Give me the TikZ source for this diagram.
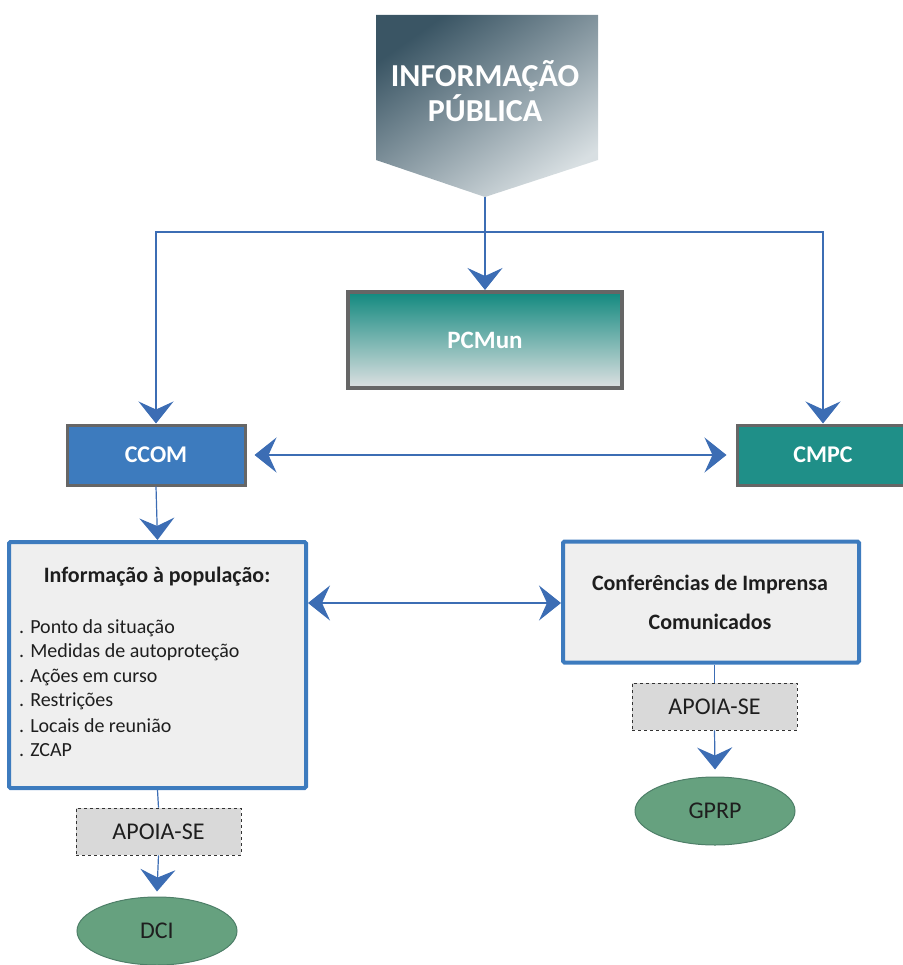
\documentclass[tikz,border=0pt]{standalone}
\usepackage{fontspec}
\setmainfont{Carlito}
\usetikzlibrary{arrows.meta,shapes.geometric}
\definecolor{arrblue}{HTML}{3C6DB4}
\definecolor{ccomblue}{HTML}{3D7BBE}
\definecolor{tealc}{HTML}{1F8F88}
\definecolor{bordgray}{HTML}{666666}
\definecolor{boxfill}{HTML}{EFEFEF}
\definecolor{apoiafill}{HTML}{D9D9D9}
\definecolor{ellfill}{HTML}{66A17F}
\definecolor{elldraw}{HTML}{4E7F68}
\definecolor{pentdark}{HTML}{3A5564}
\definecolor{pentlight}{HTML}{D8DFE2}
\definecolor{pcteal}{HTML}{12897F}
\definecolor{pclight}{HTML}{DDE0E1}
\definecolor{txtdark}{HTML}{1E1E1E}
\tikzset{
  >={Stealth[length=22pt,width=35pt,inset=8pt]},
  conn/.style={draw=arrblue,line width=1.2pt},
  solidbox/.style={draw=bordgray,line width=3pt,text=white,
    font=\bfseries\fontsize{24}{28}\selectfont},
  bluebox/.style={draw=ccomblue,line width=4pt,fill=boxfill,rounded corners=1.5pt},
  apoiabox/.style={draw=black!80,dashed,line width=0.8pt,fill=apoiafill,
    minimum width=165pt,minimum height=47pt,text=txtdark,
    font=\fontsize{24}{28}\selectfont},
  ellbox/.style={ellipse,draw=elldraw,line width=1pt,fill=ellfill,
    minimum width=160pt,minimum height=68pt,text=txtdark,
    font=\fontsize{24}{28}\selectfont},
  itemtxt/.style={anchor=west,inner sep=0pt,text=txtdark,font=\fontsize{20}{24}\selectfont},
  headtxt/.style={inner sep=0pt,text=txtdark,font=\bfseries\fontsize{22}{26}\selectfont}
}
\begin{document}
\begin{tikzpicture}[x=1pt,y=-1pt]
\useasboundingbox (0,0) rectangle (902,965);
% pentagon
\shade[top color=pentdark,bottom color=pentlight,shading angle=35]
  (376,15) -- (598,15) -- (598,160) -- (485,197) -- (376,160) -- cycle;
\node[inner sep=0pt,align=center,text=white,
  font=\bfseries\fontsize{32}{35}\selectfont] (ip) at (485,91) {INFORMAÇÃO\\PÚBLICA};
\coordinate (ptip) at (485,197);
\coordinate (j) at (485,232);
% PCMun
\node[draw=bordgray,line width=4pt,top color=pcteal,bottom color=pclight,
  minimum width=274pt,minimum height=96pt,text=white,
  font=\bfseries\fontsize{25}{29}\selectfont] (pc) at (485,340) {PCMun};
% CCOM / CMPC
\node[solidbox,fill=ccomblue,minimum width=178pt,minimum height=60pt] (ccom) at (156,455) {CCOM};
\node[solidbox,fill=tealc,minimum width=172pt,minimum height=60pt] (cmpc) at (823,455) {CMPC};
% info box
\node[bluebox,minimum width=297pt,minimum height=246pt] (info) at (157.5,665) {};
\node[headtxt] (infot) at (157,577) {Informação à população:};
\foreach \t [count=\i] in {. Ponto da situação,. Medidas de autoproteção,. Ações em curso,. Restrições,. Locais de reunião,. ZCAP}
  \node[itemtxt] (item\i) at (19,{628+24.5*(\i-1)}) {\t};
% conference box
\node[bluebox,minimum width=296pt,minimum height=121pt] (conf) at (711,602) {};
\node[headtxt] (conf1) at (710,585) {Conferências de Imprensa};
\node[headtxt] (conf2) at (710,622) {Comunicados};
% apoia
\node[apoiabox] (ap1) at (158.5,831.5) {APOIA-SE};
\node[apoiabox] (ap2) at (714.5,706.5) {APOIA-SE};
% ellipses
\node[ellbox] (dci) at (157,931) {DCI};
\node[ellbox] (gprp) at (715,811) {GPRP};
% connectors
\draw[conn,->] (ptip) -- (pc.north);
\draw[conn,->] (j) -| (ccom.north);
\draw[conn,->] (j) -| (cmpc.north);
\draw[conn,<->] ([xshift=8pt]ccom.east) -- ([xshift=-9pt]cmpc.west);
\draw[conn,->] (ccom.south) -- (info.north);
\draw[conn,<->] (info.east |- 0,603) -- (conf.west |- 0,603);
\draw[conn] (info.south) -- (ap1.north);
\draw[conn,->] (ap1.south) -- ([yshift=5pt]dci.north);
\draw[conn] (ap2.north |- conf.south) -- (ap2.north);
\draw[conn,->] (ap2.south) -- ([yshift=7pt]gprp.north);
\end{tikzpicture}
\end{document}
